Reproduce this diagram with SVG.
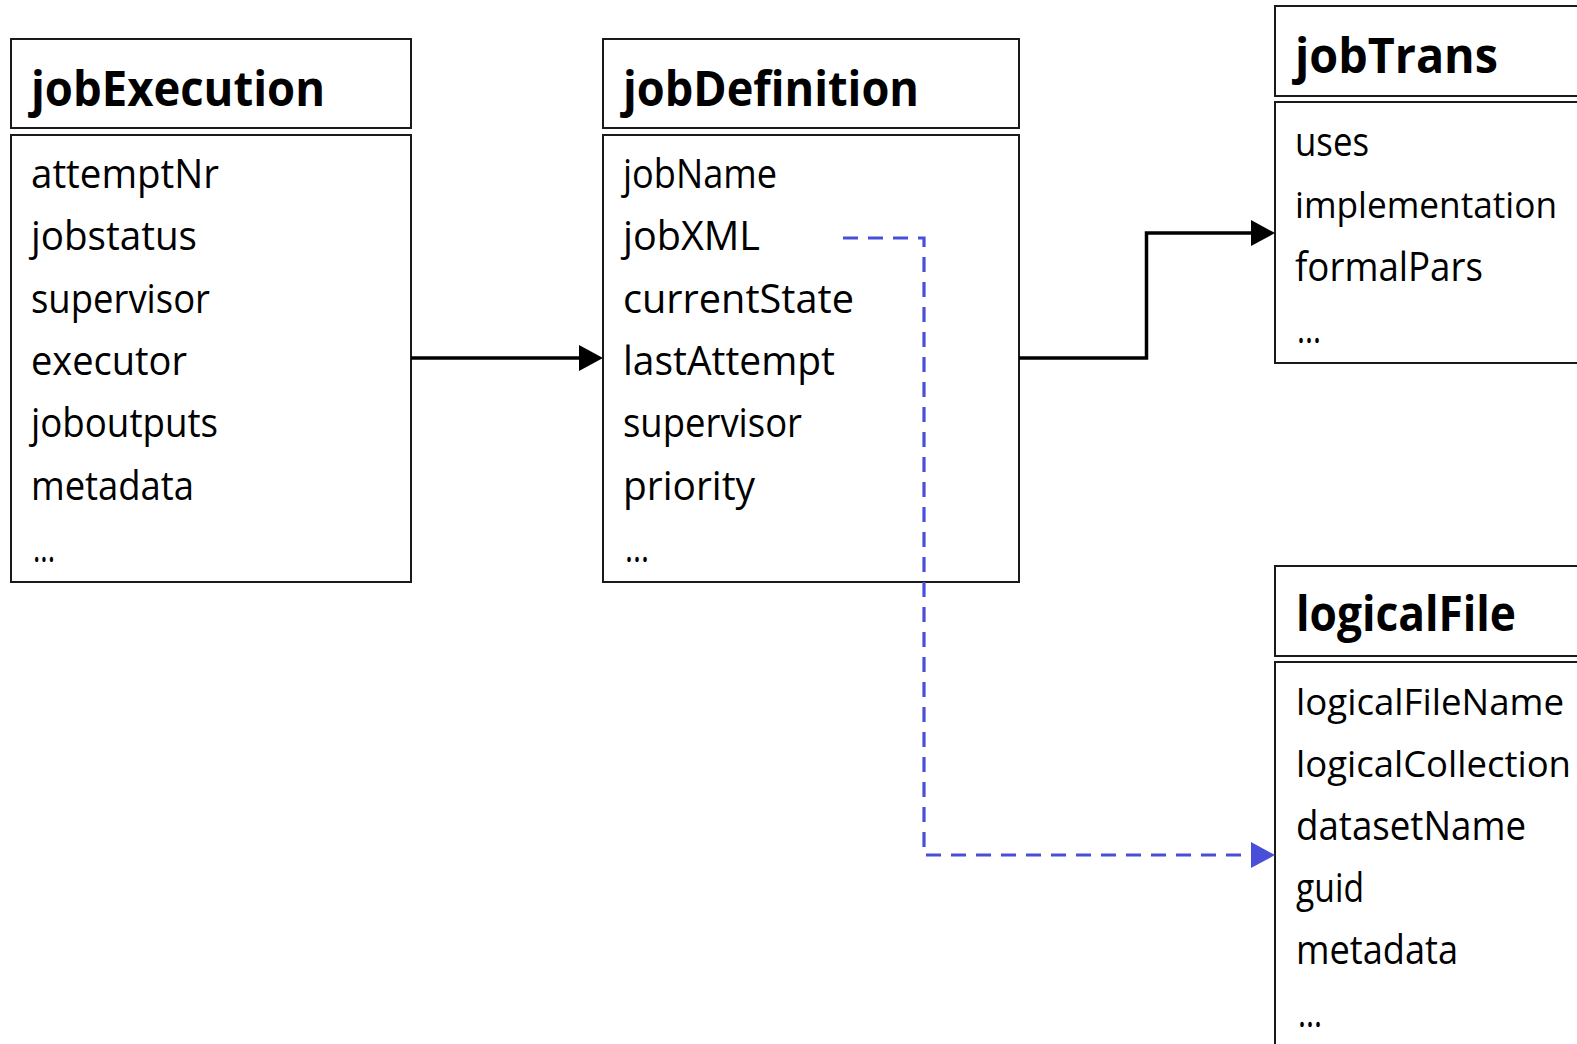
<svg xmlns="http://www.w3.org/2000/svg" width="1577" height="1044" viewBox="0 0 1577 1044">
<style>
.box{fill:#ffffff;stroke:#1a1a1a;stroke-width:2}
.h{font-family:"Open Sans","Liberation Sans",sans-serif;font-weight:bold;font-size:48px;fill:#000}
.t{font-family:"Open Sans","Liberation Sans",sans-serif;font-size:40px;fill:#000}
.s{font-size:37px}
.c{fill:none;stroke:#000;stroke-width:3.5}
.d{fill:none;stroke:#4a4fd8;stroke-width:3.2;stroke-dasharray:15 10}
</style>
<defs>
<marker id="ab" markerUnits="userSpaceOnUse" markerWidth="24" markerHeight="26" viewBox="0 0 24 26" refX="0" refY="13" orient="auto"><path d="M0,0 L24,13 L0,26 z" fill="#000"/></marker>
<marker id="ablue" markerUnits="userSpaceOnUse" markerWidth="24" markerHeight="26" viewBox="0 0 24 26" refX="0" refY="13" orient="auto"><path d="M0,0 L24,13 L0,26 z" fill="#4a4fd8"/></marker>
</defs>
<rect width="1577" height="1044" fill="#ffffff"/>
<g id="jobExecution">
<rect class="box" x="11" y="39" width="400" height="89"/>
<rect class="box" x="11" y="135" width="400" height="447"/>
<text class="h" x="31" y="106" textLength="294" lengthAdjust="spacingAndGlyphs">jobExecution</text>
<text class="t" x="31" y="188" textLength="188" lengthAdjust="spacingAndGlyphs">attemptNr</text>
<text class="t" x="31" y="250" textLength="166" lengthAdjust="spacingAndGlyphs">jobstatus</text>
<text class="t" x="31" y="313" textLength="179" lengthAdjust="spacingAndGlyphs">supervisor</text>
<text class="t" x="31" y="375" textLength="156" lengthAdjust="spacingAndGlyphs">executor</text>
<text class="t" x="31" y="437" textLength="187" lengthAdjust="spacingAndGlyphs">joboutputs</text>
<text class="t" x="31" y="500" textLength="163" lengthAdjust="spacingAndGlyphs">metadata</text>
<text class="t" x="33" y="562" textLength="22" lengthAdjust="spacingAndGlyphs">...</text>
</g>
<g id="jobDefinition">
<rect class="box" x="603" y="39" width="416" height="89"/>
<rect class="box" x="603" y="135" width="416" height="447"/>
<text class="h" x="623" y="106" textLength="296" lengthAdjust="spacingAndGlyphs">jobDefinition</text>
<text class="t" x="623" y="188" textLength="154" lengthAdjust="spacingAndGlyphs">jobName</text>
<text class="t" x="623" y="250" textLength="137" lengthAdjust="spacingAndGlyphs">jobXML</text>
<text class="t" x="623" y="313" textLength="231" lengthAdjust="spacingAndGlyphs">currentState</text>
<text class="t" x="623" y="375" textLength="212" lengthAdjust="spacingAndGlyphs">lastAttempt</text>
<text class="t" x="623" y="437" textLength="179" lengthAdjust="spacingAndGlyphs">supervisor</text>
<text class="t" x="623" y="500" textLength="132" lengthAdjust="spacingAndGlyphs">priority</text>
<text class="t" x="625" y="562" textLength="24" lengthAdjust="spacingAndGlyphs">...</text>
</g>
<g id="jobTrans">
<rect class="box" x="1275" y="6" width="303" height="90"/>
<rect class="box" x="1275" y="102" width="303" height="261"/>
<text class="h" x="1295" y="73" textLength="203" lengthAdjust="spacingAndGlyphs">jobTrans</text>
<text class="t" x="1295" y="156" textLength="74" lengthAdjust="spacingAndGlyphs">uses</text>
<text class="t s" x="1295" y="218" textLength="262" lengthAdjust="spacingAndGlyphs">implementation</text>
<text class="t" x="1295" y="281" textLength="188" lengthAdjust="spacingAndGlyphs">formalPars</text>
<text class="t" x="1297" y="343" textLength="24" lengthAdjust="spacingAndGlyphs">...</text>
</g>
<g id="logicalFile">
<rect class="box" x="1275" y="566" width="303" height="90"/>
<rect class="box" x="1275" y="662" width="303" height="400"/>
<text class="h" x="1296" y="631" textLength="220" lengthAdjust="spacingAndGlyphs">logicalFile</text>
<text class="t s" x="1296" y="715" textLength="268" lengthAdjust="spacingAndGlyphs">logicalFileName</text>
<text class="t s" x="1296" y="777" textLength="275" lengthAdjust="spacingAndGlyphs">logicalCollection</text>
<text class="t" x="1296" y="840" textLength="230" lengthAdjust="spacingAndGlyphs">datasetName</text>
<text class="t" x="1296" y="902" textLength="68" lengthAdjust="spacingAndGlyphs">guid</text>
<text class="t" x="1296" y="964" textLength="162" lengthAdjust="spacingAndGlyphs">metadata</text>
<text class="t" x="1298" y="1027" textLength="24" lengthAdjust="spacingAndGlyphs">...</text>
</g>
<g id="connectors">
<path class="c" d="M411,358 H579" marker-end="url(#ab)"/>
<path class="c" d="M1019,358 H1146.5 V233 H1251" marker-end="url(#ab)"/>
<path class="d" d="M843,238 H924 V855 H1251" marker-end="url(#ablue)"/>
</g>
</svg>
